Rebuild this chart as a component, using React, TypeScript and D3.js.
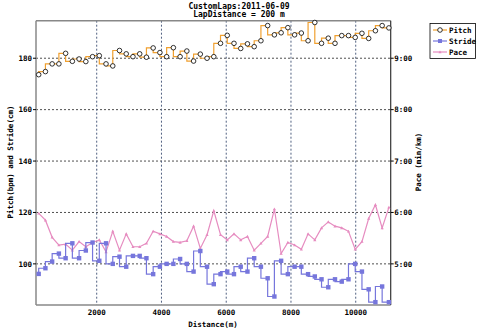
import React from "react";
import * as d3 from "d3";

const distances = [208, 416, 624, 832, 1040, 1248, 1456, 1664, 1872, 2080, 2288, 2496, 2704, 2912, 3120, 3328, 3536, 3744, 3952, 4160, 4368, 4576, 4784, 4992, 5200, 5408, 5616, 5824, 6032, 6240, 6448, 6656, 6864, 7072, 7280, 7488, 7696, 7904, 8112, 8320, 8528, 8736, 8944, 9152, 9360, 9568, 9776, 9984, 10192, 10400, 10608, 10816, 11024];

const pitch = [173.6, 174.8, 177.8, 177.8, 181.9, 178.8, 179.7, 178.7, 180.6, 181.0, 177.8, 177.0, 183.0, 181.7, 180.6, 181.7, 180.4, 184.0, 182.2, 180.6, 184.1, 180.6, 182.8, 178.9, 181.6, 180.0, 180.6, 185.8, 188.9, 185.8, 183.8, 185.6, 184.5, 186.8, 192.7, 189.1, 189.9, 191.9, 189.1, 189.8, 186.8, 193.9, 185.8, 187.8, 185.8, 188.8, 188.8, 188.1, 189.7, 187.7, 190.7, 192.7, 191.8];

const stride = [96.1, 98.3, 100.9, 104.0, 102.2, 108.0, 102.2, 105.2, 108.3, 101.2, 108.0, 100.0, 102.8, 98.9, 103.1, 103.1, 102.2, 96.0, 98.9, 100.0, 100.0, 101.9, 100.0, 97.0, 105.0, 98.9, 92.1, 96.0, 97.0, 96.0, 98.9, 97.0, 102.2, 98.9, 94.4, 87.3, 101.2, 96.0, 98.9, 98.9, 96.0, 95.1, 94.0, 90.9, 94.0, 93.1, 94.0, 100.0, 97.0, 90.1, 85.1, 91.2, 85.1];

// pace in seconds per km
const pace = [359, 351, 331, 322, 323, 316, 326, 320, 325, 328, 314, 338, 316, 335, 320, 320, 324, 338, 335, 332, 326, 325, 327, 344, 318, 334, 362, 334, 328, 335, 328, 332, 316, 324, 332, 364, 312, 325, 322, 317, 335, 328, 342, 349, 344, 342, 338, 317, 326, 353, 369, 342, 366];

const xTicks = [2000, 4000, 6000, 8000, 10000];
const leftTicks = [100, 120, 140, 160, 180];
const rightTicks = [300, 360, 420, 480, 540];

const titleLines = ["CustomLaps:2011-06-09", "LapDistance = 200 m"];

const W = 480;
const H = 329;
const M = { left: 36, right: 390.7, top: 20.7, bottom: 305 };

const FONT = "'DejaVu Sans Mono', monospace";
const PITCH_C = "#f0a030";
const STRIDE_C = "#7676dc";
const PACE_C = "#e68cc0";

const fmtPace = (s: number) => {
  const m = Math.floor(s / 60);
  const sec = Math.round(s - m * 60);
  return `${m}:${sec < 10 ? "0" + sec : sec}`;
};

export default function App() {
  const x = d3.scaleLinear().domain([125, 11080]).range([M.left, M.right]);
  const yL = d3.scaleLinear().domain([84.0, 194.6]).range([M.bottom, M.top]);
  const yR = d3.scaleLinear().domain([84.0 * 3, 194.6 * 3]).range([M.bottom, M.top]);

  const idx = d3.range(distances.length);
  const stepLine = (vals: number[]) =>
    d3
      .line<number>()
      .x((i) => x(distances[i]))
      .y((i) => yL(vals[i]))
      .curve(d3.curveStepBefore)(idx) as string;
  const paceLine = d3
    .line<number>()
    .x((i) => x(distances[i]))
    .y((i) => yR(pace[i]))(idx) as string;

  const tri = (cx: number, cy: number, r: number) =>
    `M${cx},${cy - r}L${cx + r},${cy + r * 0.8}L${cx - r},${cy + r * 0.8}Z`;

  const gridDash = "2,2";

  return (
    <svg width={W} height={H} style={{ position: "absolute", left: 0, top: 0, background: "#fff" }}>
      <rect x={0} y={0} width={W} height={H} fill="#fff" />
      {/* title */}
      {titleLines.map((t, i) => (
        <text key={t} x={239} y={8.5 + i * 8.5} textAnchor="middle" fontFamily={FONT} fontWeight="bold" fontSize={8} fill="#000">
          {t}
        </text>
      ))}
      {/* grid */}
      {leftTicks.map((v) => (
        <line key={"hg" + v} x1={M.left} x2={M.right} y1={yL(v)} y2={yL(v)} stroke="#222" strokeWidth={0.8} strokeDasharray={gridDash} />
      ))}
      {xTicks.map((v) => (
        <line key={"vg" + v} x1={x(v)} x2={x(v)} y1={M.top} y2={M.bottom} stroke="#506080" strokeWidth={1} strokeDasharray={gridDash} />
      ))}
      {/* frame */}
      <line x1={M.left} x2={M.right} y1={M.top} y2={M.top} stroke="#888" strokeWidth={1.5} />
      <line x1={M.left} x2={M.right} y1={M.bottom} y2={M.bottom} stroke="#888" strokeWidth={1.5} />
      <line x1={M.left} x2={M.left} y1={M.top} y2={M.bottom} stroke="#888" strokeWidth={1.5} />
      <line x1={M.right} x2={M.right} y1={M.top} y2={M.bottom} stroke="#333" strokeWidth={1.2} />
      {/* left ticks */}
      {leftTicks.map((v) => (
        <g key={"lt" + v}>
          <line x1={M.left - 3} x2={M.left} y1={yL(v)} y2={yL(v)} stroke="#000" strokeWidth={1} />
          <text x={M.left - 4} y={yL(v) + 2.8} textAnchor="end" fontFamily={FONT} fontWeight="bold" fontSize={7.5} fill="#000">
            {v}
          </text>
        </g>
      ))}
      {/* right ticks */}
      {rightTicks.map((v) => (
        <g key={"rt" + v}>
          <line x1={M.right} x2={M.right + 3} y1={yR(v)} y2={yR(v)} stroke="#000" strokeWidth={1} />
          <text x={M.right + 3.5} y={yR(v) + 2.8} textAnchor="start" fontFamily={FONT} fontWeight="bold" fontSize={7.5} fill="#000">
            {fmtPace(v)}
          </text>
        </g>
      ))}
      {/* x ticks */}
      {xTicks.map((v) => (
        <text key={"xt" + v} x={x(v)} y={314.5} textAnchor="middle" fontFamily={FONT} fontWeight="bold" fontSize={7.5} fill="#000">
          {v}
        </text>
      ))}
      {/* axis labels */}
      <text x={213} y={326.5} textAnchor="middle" fontFamily={FONT} fontWeight="bold" fontSize={7.5} fill="#000">
        Distance(m)
      </text>
      <text transform={`translate(12.5,162) rotate(-90)`} textAnchor="middle" fontFamily={FONT} fontWeight="bold" fontSize={7.5} fill="#000">
        Pitch(bpm) and Stride(cm)
      </text>
      <text transform={`translate(420.5,162) rotate(-90)`} textAnchor="middle" fontFamily={FONT} fontWeight="bold" fontSize={7.5} fill="#000">
        Pace (min/km)
      </text>
      {/* pace */}
      <path d={paceLine} fill="none" stroke={PACE_C} strokeWidth={1.2} />
      {idx.map((i) => (
        <path key={"pm" + i} d={tri(x(distances[i]), yR(pace[i]), 1.6)} fill={PACE_C} />
      ))}
      {/* stride */}
      <path d={stepLine(stride)} fill="none" stroke={STRIDE_C} strokeWidth={1.2} />
      {idx.map((i) => (
        <rect key={"sm" + i} x={x(distances[i]) - 2.2} y={yL(stride[i]) - 2.2} width={4.4} height={4.4} fill={STRIDE_C} />
      ))}
      {/* pitch */}
      <path d={stepLine(pitch)} fill="none" stroke={PITCH_C} strokeWidth={1.2} />
      {idx.map((i) => (
        <circle key={"pc" + i} cx={x(distances[i])} cy={yL(pitch[i])} r={2.3} fill="#fff" stroke="#000" strokeWidth={0.8} />
      ))}
      {/* legend */}
      <rect x={430} y={23.5} width={45.5} height={35} fill="#fff" stroke="#000" strokeWidth={0.8} />
      {[
        { name: "Pitch", c: PITCH_C, k: "c" },
        { name: "Stride", c: STRIDE_C, k: "s" },
        { name: "Pace", c: PACE_C, k: "t" },
      ].map((e, i) => {
        const yy = 30 + i * 11;
        return (
          <g key={e.name}>
            <line x1={433} x2={447} y1={yy} y2={yy} stroke={e.c} strokeWidth={1.2} />
            {e.k === "c" && <circle cx={440} cy={yy} r={2.3} fill="#fff" stroke="#000" strokeWidth={0.8} />}
            {e.k === "s" && <rect x={438} y={yy - 2} width={4} height={4} fill={e.c} />}
            {e.k === "t" && <path d={tri(440, yy, 1.6)} fill={e.c} />}
            <text x={449} y={yy + 2.8} fontFamily={FONT} fontWeight="bold" fontSize={7.5} fill="#000">
              {e.name}
            </text>
          </g>
        );
      })}
    </svg>
  );
}
